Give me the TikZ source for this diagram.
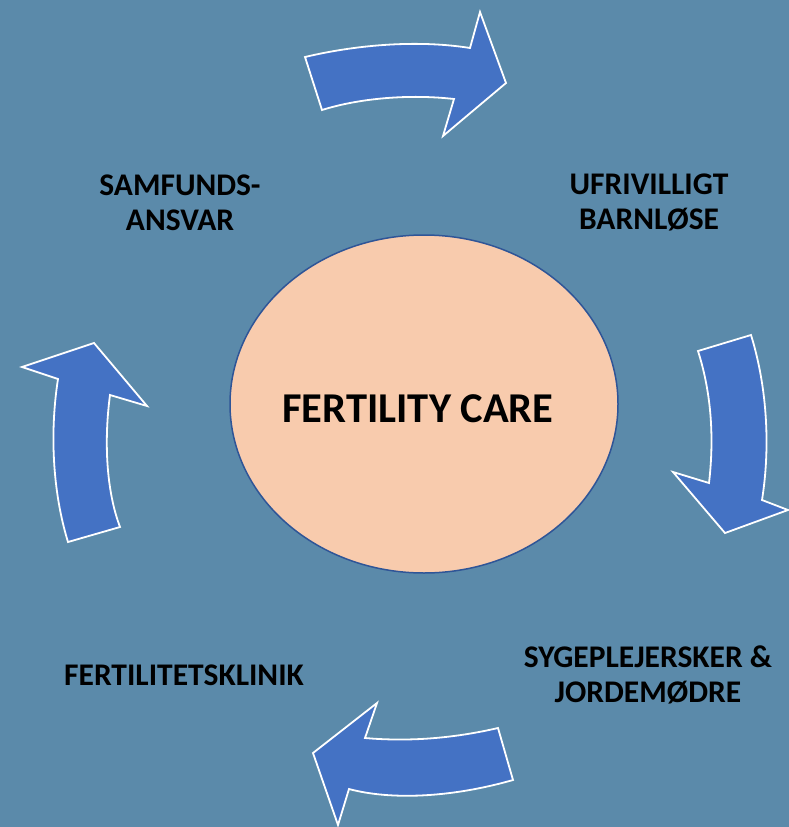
\documentclass[tikz,border=0pt]{standalone}
\usepackage{fontspec}
\setsansfont{Carlito}
\usetikzlibrary{shapes.geometric}

\definecolor{backblue}{RGB}{91,138,170}
\definecolor{arrowblue}{RGB}{68,114,196}
\definecolor{peach}{RGB}{248,203,173}
\definecolor{rimblue}{RGB}{47,85,151}

\begin{document}
\begin{tikzpicture}[
  x=1pt, y=-1pt,
  font=\sffamily\bfseries,
  bigarrow/.style={fill=arrowblue, draw=white, line width=1.8pt, line join=miter},
  stage/.style={align=center, font=\sffamily\bfseries\fontsize{31.5}{35}\selectfont, inner sep=0pt}
]

\fill[backblue] (0,0) rectangle (789,827);
\useasboundingbox (0,0) rectangle (789,827);

\node[ellipse, draw=rimblue, line width=1.5pt, fill=peach, minimum width=388pt, minimum height=338pt, inner sep=0pt] (care) at (424,404) {};
\node[font=\sffamily\bfseries\fontsize{42.5}{50}\selectfont, inner sep=0pt] (caretext) at (418,409) {FERTILITY CARE};

\node[stage] (samfund) at (180,203) {SAMFUNDS-\\ANSVAR};
\node[stage] (barnlose) at (649,202) {UFRIVILLIGT\\BARNLØSE};
\node[stage] (sygepl) at (648,675) {SYGEPLEJERSKER \&\\JORDEMØDRE};
\node[stage] (klinik) at (184,675) {FERTILITETSKLINIK};

% top arrow
\draw[bigarrow] (305,57) .. controls (360,44) and (420,40) .. (470,48) -- (480,12) -- (506,83)
  -- (443,136) -- (454,99) .. controls (410,94) and (360,98) .. (322,110) -- cycle;
% right arrow
\draw[bigarrow] (698,351) -- (751,335) .. controls (768,390) and (770,450) .. (762,500)
  -- (788,510) -- (725,533) -- (673,472) -- (709,483) .. controls (714,440) and (712,395) .. (698,351) -- cycle;
% bottom arrow
\draw[bigarrow] (498,728) .. controls (455,738) and (410,742) .. (365,738) -- (377,703) -- (313,753)
  -- (338,825) -- (349,789) .. controls (390,800) and (450,798) .. (513,780) -- cycle;
% left arrow
\draw[bigarrow] (68,542) .. controls (52,490) and (50,430) .. (58,379) -- (22,367) -- (94,343)
  -- (147,406) -- (110,395) .. controls (104,440) and (106,490) .. (120,527) -- cycle;

\end{tikzpicture}
\end{document}
